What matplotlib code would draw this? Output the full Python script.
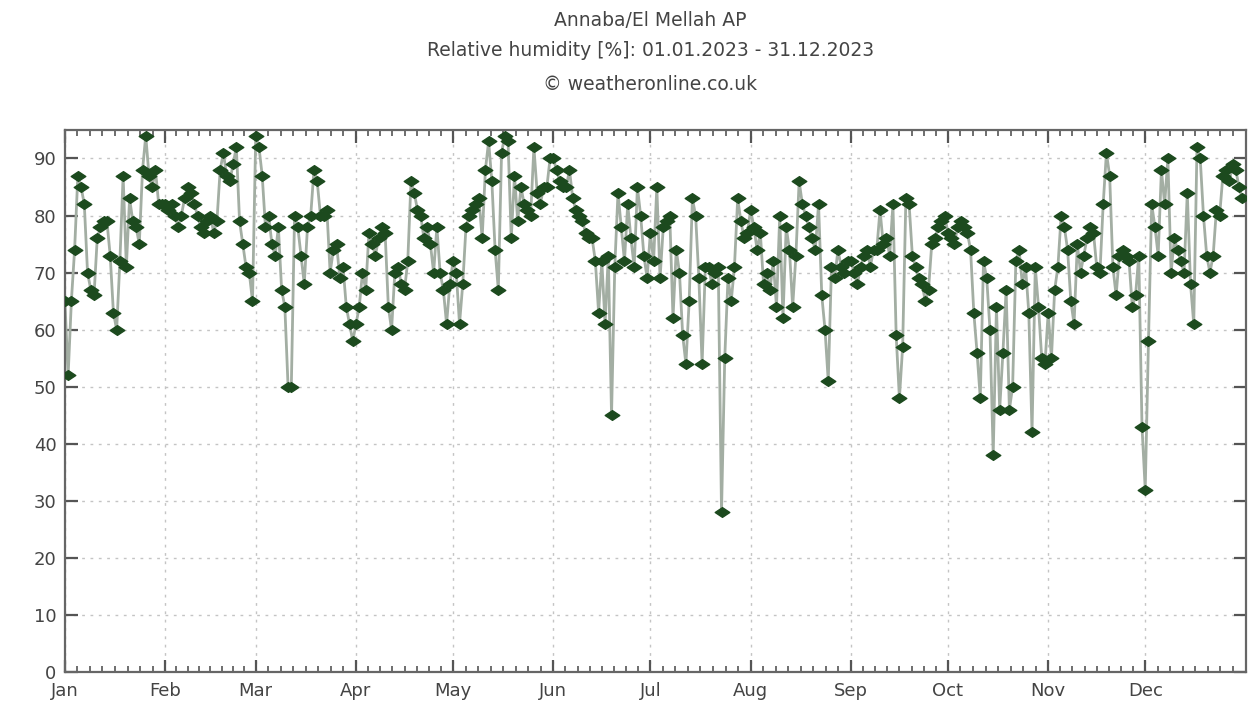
import numpy as np
import matplotlib
matplotlib.use("Agg")
import matplotlib.pyplot as plt
from matplotlib.path import Path

months = ["Jan", "Feb", "Mar", "Apr", "May", "Jun", "Jul", "Aug", "Sep", "Oct", "Nov", "Dec"]
month_days = [31, 28, 31, 30, 31, 30, 31, 31, 30, 31, 30, 31]

jan = [65, 52, 65, 74, 87, 85, 82, 70, 67, 66, 76, 78, 79, 79, 73, 63, 60, 72, 87, 71, 83, 79, 78, 75, 88, 94, 87, 85, 88, 82, 82]
feb = [82, 81, 82, 80, 78, 80, 83, 85, 84, 82, 80, 78, 77, 79, 80, 77, 79, 88, 91, 87, 86, 89, 92, 79, 75, 71, 70, 65]
mar = [94, 92, 87, 78, 80, 75, 73, 78, 67, 64, 50, 50, 80, 78, 73, 68, 78, 80, 88, 86, 80, 80, 81, 70, 74, 75, 69, 71, 64, 61, 58]
apr = [61, 64, 70, 67, 77, 75, 73, 76, 78, 77, 64, 60, 70, 71, 68, 67, 72, 86, 84, 81, 80, 76, 78, 75, 70, 78, 70, 67, 61, 68]
may = [72, 70, 61, 68, 78, 80, 81, 82, 83, 76, 88, 93, 86, 74, 67, 91, 94, 93, 76, 87, 79, 85, 82, 81, 80, 92, 84, 82, 85, 85, 90]
jun = [90, 88, 86, 85, 85, 88, 83, 81, 80, 79, 77, 76, 76, 72, 63, 72, 61, 73, 45, 71, 84, 78, 72, 82, 76, 71, 85, 80, 73, 69]
jul = [77, 72, 85, 69, 78, 79, 80, 62, 74, 70, 59, 54, 65, 83, 80, 69, 54, 71, 71, 68, 70, 71, 28, 55, 69, 65, 71, 83, 79, 76, 77]
aug = [81, 78, 74, 77, 68, 70, 67, 72, 64, 80, 62, 78, 74, 64, 73, 86, 82, 80, 78, 76, 74, 82, 66, 60, 51, 71, 69, 74, 71, 70, 72]
sep = [72, 70, 68, 71, 73, 74, 71, 74, 74, 81, 75, 76, 73, 82, 59, 48, 57, 83, 82, 73, 71, 69, 68, 65, 67, 75, 76, 78, 79, 80]
oct_ = [77, 76, 75, 78, 79, 78, 77, 74, 63, 56, 48, 72, 69, 60, 38, 64, 46, 56, 67, 46, 50, 72, 74, 68, 71, 63, 42, 71, 64, 55, 54]
nov = [63, 55, 67, 71, 80, 78, 74, 65, 61, 75, 70, 73, 76, 78, 77, 71, 70, 82, 91, 87, 71, 66, 73, 74, 73, 72, 64, 66, 73, 43]
dec = [32, 58, 82, 78, 73, 88, 82, 90, 70, 76, 74, 72, 70, 84, 68, 61, 92, 90, 80, 73, 70, 73, 81, 80, 87, 88, 86, 89, 88, 85, 83]

humidity = jan + feb + mar + apr + may + jun + jul + aug + sep + oct_ + nov + dec
days = np.arange(len(humidity))
month_starts = np.concatenate([[0], np.cumsum(month_days)[:-1]])

# wide diamond marker (gnuplot-like)
wide_diamond = Path([(-1.5, 0), (0, 1), (1.5, 0), (0, -1), (-1.5, 0)],
                    [Path.MOVETO, Path.LINETO, Path.LINETO, Path.LINETO, Path.CLOSEPOLY])

fig = plt.figure(figsize=(12.48, 7.22), dpi=100)
ax = fig.add_axes([0.052, 0.069, 0.946, 0.751])

ax.plot(days, humidity, color="#a3aea3", lw=2.0, zorder=2)
ax.plot(days, humidity, ls="none", marker=wide_diamond, ms=10.5, color="#1c4a1e",
        mec="#1c4a1e", zorder=3)

ax.set_xlim(0, 365)
ax.set_ylim(0, 95)
ax.set_yticks(np.arange(0, 91, 10))
ax.set_xticks(month_starts)
ax.set_xticklabels(months)
minor = []
for s, n in zip(month_starts, month_days):
    minor += [s + k * n / 8 for k in range(1, 8)]
ax.set_xticks(minor, minor=True)

ax.grid(True, which="major", color="#c4c4c4", ls=(0, (2, 4)), lw=1.0)
ax.tick_params(axis="both", which="major", direction="in", length=9, width=1.6,
               color="#555555", labelsize=13, labelcolor="#444444",
               top=True, right=True)
ax.tick_params(axis="x", which="minor", direction="in", length=4, width=1.2,
               color="#555555", top=True, bottom=True)
ax.tick_params(axis="x", pad=7)
ax.tick_params(axis="y", pad=6)
for sp in ax.spines.values():
    sp.set_color("#666666")
    sp.set_linewidth(1.6)

tx = 0.521
fig.text(tx, 1 - 20 / 722, "Annaba/El Mellah AP", ha="center", va="center", fontsize=13.5, color="#444444")
fig.text(tx, 1 - 50 / 722, "Relative humidity [%]: 01.01.2023 - 31.12.2023", ha="center", va="center", fontsize=13.5, color="#444444")
fig.text(tx, 1 - 84 / 722, "\u00a9 weatheronline.co.uk", ha="center", va="center", fontsize=13.5, color="#444444")

fig.savefig("out.png", dpi=100)
